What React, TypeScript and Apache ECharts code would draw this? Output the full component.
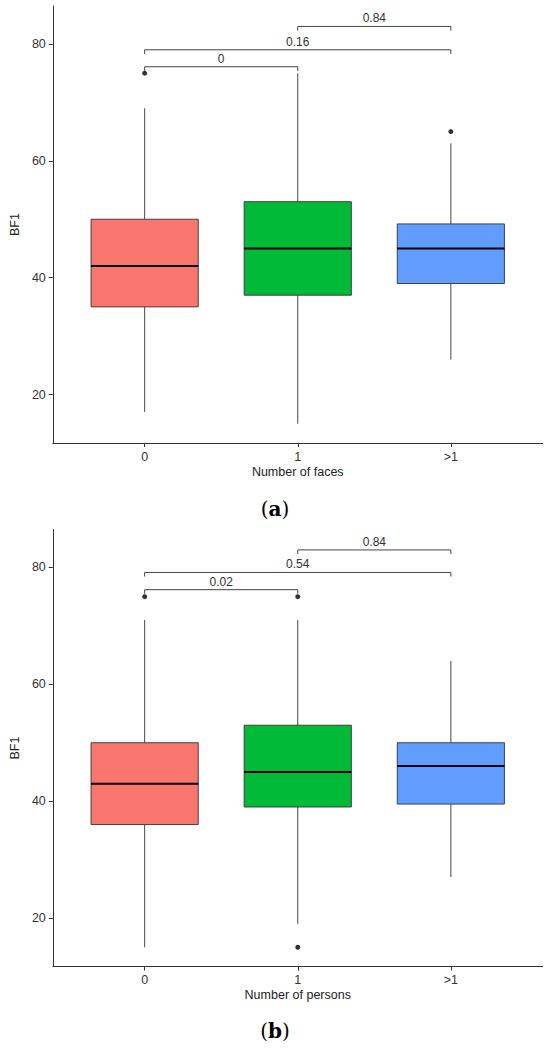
import React, { useEffect, useRef } from "react";
import * as echarts from "echarts";

// ---------- data ----------
const categories = ["0", "1", ">1"];
const boxColors = ["#F8766D", "#00BA38", "#619CFF"];

// [low whisker, Q1, median, Q3, high whisker]
const facesStats = [
  [17, 35, 42, 50, 69],
  [15, 37, 45, 53, 75],
  [26, 39, 45, 49.2, 63],
];
const facesOutliers = [
  [1, 75],
  [3, 65],
];
// [from category, to category, bracket height]
const facesBrackets = [
  [1, 2, 76.1],
  [1, 3, 79.0],
  [2, 3, 83.0],
];
const facesPValues = ["0", "0.16", "0.84"];

const personsStats = [
  [15, 36, 43, 50, 71],
  [19, 39, 45, 53, 71],
  [27, 39.5, 46, 50, 64],
];
const personsOutliers = [
  [1, 75],
  [2, 75],
  [2, 15],
];
const personsBrackets = [
  [1, 2, 76.2],
  [1, 3, 79.15],
  [2, 3, 83.0],
];
const personsPValues = ["0.02", "0.54", "0.84"];

const yTicks = [20, 40, 60, 80];
const xTicks = [1, 2, 3];

// ---------- style constants ----------
const FONT = '"Liberation Sans", Arial, sans-serif';
const BOX_WIDTH = 0.7;
const TIP = 0.7;
const Y_MIN = 11.7;
const Y_MAX = 86.5;

function boxRenderItem(params: any, api: any) {
  const x = api.value(0);
  const lo = api.coord([x, api.value(1)]);
  const q1 = api.coord([x, api.value(2)]);
  const med = api.coord([x, api.value(3)]);
  const q3 = api.coord([x, api.value(4)]);
  const hi = api.coord([x, api.value(5)]);
  const w = api.size([BOX_WIDTH, 0])[0];
  const cx = lo[0];
  const color = boxColors[params.dataIndex % boxColors.length];
  const lineStyle = { stroke: "#333", lineWidth: 0.9 };
  return {
    type: "group",
    children: [
      { type: "line", shape: { x1: cx, y1: hi[1], x2: cx, y2: q3[1] }, style: lineStyle },
      { type: "line", shape: { x1: cx, y1: q1[1], x2: cx, y2: lo[1] }, style: lineStyle },
      {
        type: "rect",
        shape: { x: cx - w / 2, y: q3[1], width: w, height: q1[1] - q3[1] },
        style: { fill: color, stroke: "#333", lineWidth: 0.9 },
      },
      {
        type: "line",
        shape: { x1: cx - w / 2, y1: med[1], x2: cx + w / 2, y2: med[1] },
        style: { stroke: "#000", lineWidth: 2 },
      },
    ],
  };
}

function makeBracketRender(labels: string[]) {
  return (params: any, api: any) => {
    const x1 = api.value(0);
    const x2 = api.value(1);
    const y = api.value(2);
    const pL = api.coord([x1, y]);
    const pR = api.coord([x2, y]);
    const tL = api.coord([x1, y - TIP]);
    const tR = api.coord([x2, y - TIP]);
    return {
      type: "group",
      children: [
        {
          type: "polyline",
          shape: { points: [tL, pL, pR, tR] },
          style: { stroke: "#444", lineWidth: 1, fill: "none" },
        },
        {
          type: "text",
          x: (pL[0] + pR[0]) / 2,
          y: pL[1] - 8,
          style: {
            text: labels[params.dataIndex],
            fill: "#333",
            font: `12px ${FONT}`,
            align: "center",
            verticalAlign: "middle",
          },
        },
      ],
    };
  };
}

function xAxisFor(gridIndex: number, name: string) {
  return {
    type: "value",
    gridIndex,
    min: 0.4,
    max: 3.6,
    name,
    nameLocation: "middle",
    nameGap: 22,
    nameTextStyle: { color: "#222", fontSize: 12.5, fontFamily: FONT },
    axisLine: { show: true, onZero: false, lineStyle: { color: "#333", width: 1 } },
    axisTick: { show: true, length: 4, customValues: xTicks, lineStyle: { color: "#333" } },
    axisLabel: {
      customValues: xTicks,
      margin: 7,
      color: "#333",
      fontSize: 12.5,
      fontFamily: FONT,
      formatter: (v: number) => categories[Math.round(v) - 1] ?? "",
    },
    splitLine: { show: false },
  };
}

function yAxisFor(gridIndex: number) {
  return {
    type: "value",
    gridIndex,
    min: Y_MIN,
    max: Y_MAX,
    name: "BF1",
    nameLocation: "middle",
    nameGap: 25,
    nameRotate: 90,
    nameTextStyle: { color: "#222", fontSize: 12.5, fontFamily: FONT },
    axisLine: { show: true, onZero: false, lineStyle: { color: "#333", width: 1 } },
    axisTick: { show: true, length: 4, customValues: yTicks, lineStyle: { color: "#333" } },
    axisLabel: {
      customValues: yTicks,
      margin: 7,
      color: "#333",
      fontSize: 12.5,
      fontFamily: FONT,
    },
    splitLine: { show: false },
  };
}

function caption(letter: string, y: number) {
  return {
    type: "text",
    x: 275,
    y,
    style: {
      text: `{p|(}{b|${letter}}{p|)}`,
      align: "center",
      verticalAlign: "middle",
      fill: "#000",
      rich: {
        p: { fontSize: 20, fontFamily: '"DejaVu Serif", serif', fill: "#000", color: "#000" },
        b: {
          fontSize: 20,
          fontFamily: '"DejaVu Serif", serif',
          fontWeight: "bold",
          fill: "#000",
          color: "#000",
        },
      },
    },
  };
}

export default function App() {
  const ref = useRef<HTMLDivElement>(null);

  useEffect(() => {
    if (!ref.current) return;
    const chart = echarts.init(ref.current, undefined, { renderer: "svg" });

    const boxData = (stats: number[][]) => stats.map((s, i) => [i + 1, ...s]);

    chart.setOption({
      animation: false,
      backgroundColor: "#fff",
      grid: [
        { left: 42.3, top: 6, width: 500.4, height: 437, containLabel: false },
        { left: 42.3, top: 529.5, width: 500.4, height: 437, containLabel: false },
      ],
      xAxis: [xAxisFor(0, "Number of faces"), xAxisFor(1, "Number of persons")],
      yAxis: [yAxisFor(0), yAxisFor(1)],
      graphic: [caption("a", 509), caption("b", 1031)],
      series: [
        {
          type: "custom",
          xAxisIndex: 0,
          yAxisIndex: 0,
          renderItem: boxRenderItem,
          encode: { x: 0, y: [1, 2, 3, 4, 5] },
          data: boxData(facesStats),
          silent: true,
        },
        {
          type: "scatter",
          xAxisIndex: 0,
          yAxisIndex: 0,
          data: facesOutliers,
          symbolSize: 5,
          itemStyle: { color: "#000" },
          silent: true,
        },
        {
          type: "custom",
          xAxisIndex: 0,
          yAxisIndex: 0,
          renderItem: makeBracketRender(facesPValues),
          encode: { x: [0, 1], y: 2 },
          data: facesBrackets,
          silent: true,
        },
        {
          type: "custom",
          xAxisIndex: 1,
          yAxisIndex: 1,
          renderItem: boxRenderItem,
          encode: { x: 0, y: [1, 2, 3, 4, 5] },
          data: boxData(personsStats),
          silent: true,
        },
        {
          type: "scatter",
          xAxisIndex: 1,
          yAxisIndex: 1,
          data: personsOutliers,
          symbolSize: 5,
          itemStyle: { color: "#000" },
          silent: true,
        },
        {
          type: "custom",
          xAxisIndex: 1,
          yAxisIndex: 1,
          renderItem: makeBracketRender(personsPValues),
          encode: { x: [0, 1], y: 2 },
          data: personsBrackets,
          silent: true,
        },
      ],
    });

    return () => {
      chart.dispose();
    };
  }, []);

  return (
    <div
      ref={ref}
      style={{ position: "absolute", left: 0, top: 0, width: 550, height: 1049 }}
    />
  );
}
